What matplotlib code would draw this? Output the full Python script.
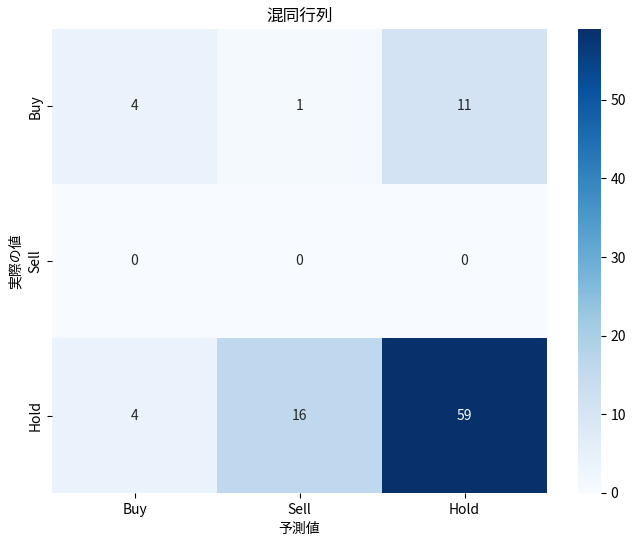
import matplotlib
matplotlib.use('Agg')
import matplotlib.pyplot as plt
import seaborn as sns
import numpy as np

labels = ['Buy', 'Sell', 'Hold']
row_buy = [4, 1, 11]
row_sell = [0, 0, 0]
row_hold = [4, 16, 59]

cm = np.array([row_buy, row_sell, row_hold])

plt.rcParams['font.family'] = ['Noto Sans CJK JP', 'DejaVu Sans']

fig = plt.figure(figsize=(6.38, 5.44), dpi=100)
ax = fig.add_axes([52/638, 1 - 493/544, 495/638, 464/544])
cax = fig.add_axes([578/638, 1 - 493/544, 23/638, 464/544])

sns.heatmap(cm, annot=True, fmt='d', cmap='Blues',
            xticklabels=labels, yticklabels=labels, ax=ax, cbar_ax=cax)
ax.set_title('混同行列')
ax.set_xlabel('予測値')
ax.set_ylabel('実際の値')

fig.savefig('out.png', dpi=100)
